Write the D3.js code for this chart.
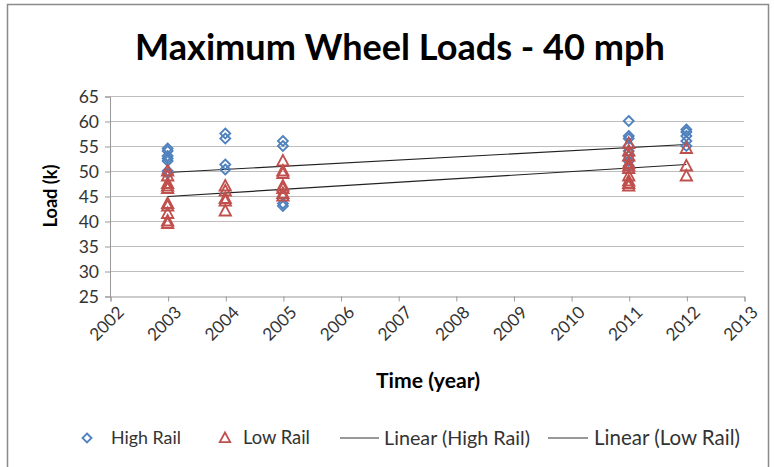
<!DOCTYPE html>
<html>
<head>
<meta charset="utf-8">
<script src="https://cdn.jsdelivr.net/npm/d3@7"></script>
<style>
  html, body { margin: 0; padding: 0; background: #fff; }
  svg { display: block; }
  text { font-family: Lato, "Open Sans", sans-serif; }
</style>
</head>
<body>
<svg id="chart" width="774" height="467"></svg>
<script>
// ---- Data ----
const years = [2002, 2003, 2004, 2005, 2006, 2007, 2008, 2009, 2010, 2011, 2012, 2013];
const yTicks = [25, 30, 35, 40, 45, 50, 55, 60, 65];

const highYears = [2003, 2003, 2003, 2003, 2003, 2003, 2003,
                   2004, 2004, 2004, 2004,
                   2005, 2005, 2005, 2005,
                   2011, 2011, 2011, 2011, 2011, 2011, 2011, 2011,
                   2012, 2012, 2012, 2012, 2012];
const highLoads = [54.5, 54, 53, 52.5, 52, 50, 49.5,
                   57.5, 56.5, 51.3, 50.3,
                   56, 55, 43.5, 43,
                   60, 57, 56.5, 55, 54, 53, 52, 51,
                   58.3, 57.8, 57, 56, 55];

const lowYears = [2003, 2003, 2003, 2003, 2003, 2003, 2003, 2003, 2003, 2003,
                  2004, 2004, 2004, 2004, 2004,
                  2005, 2005, 2005, 2005, 2005, 2005, 2005,
                  2011, 2011, 2011, 2011, 2011, 2011, 2011, 2011, 2011, 2011,
                  2012, 2012, 2012];
const lowLoads = [50, 49, 47.5, 47, 46.5, 43.5, 43, 41.5, 40, 39.5,
                  47, 46, 44.5, 44, 42,
                  52, 50, 49.5, 47, 46.5, 45.5, 45,
                  55.5, 54, 53, 51.5, 51, 50.5, 49, 48, 47.5, 47,
                  54.5, 51, 49];

// Trendline end values (Excel linear fits)
const trendYears = [2003, 2012];
const trendHigh = [49.7, 55.3];
const trendLow = [44.9, 51.3];

const legendLabels = ["High Rail", "Low Rail", "Linear (High Rail)", "Linear (Low Rail)"];

// ---- Chart ----
const blue = "#4F81BD", red = "#C0504D";
const svg = d3.select("#chart");

// scale a text's font size so it spans a target width
function fit(sel, base, width) {
  sel.attr("font-size", base);
  const w = sel.node().getComputedTextLength();
  sel.attr("font-size", base * width / w);
  return sel;
}

// outer frame
svg.append("rect").attr("x", 7.5).attr("y", 4.5).attr("width", 761).attr("height", 470)
  .attr("fill", "#fff").attr("stroke", "#8a8a8a").attr("stroke-width", 1.5);

const x = d3.scaleLinear().domain([2002, 2013]).range([110, 744]);
const y = d3.scaleLinear().domain([25, 65]).range([296, 96]);

// title
const title = svg.append("text").attr("x", 400).attr("y", 60).attr("text-anchor", "middle")
  .attr("font-weight", "bold").attr("fill", "#000")
  .text("Maximum Wheel Loads - 40 mph");
fit(title, 32, 530);

// gridlines
svg.append("g").selectAll("line").data(yTicks.filter(d => d > 25)).join("line")
  .attr("x1", x(2002)).attr("x2", x(2013))
  .attr("y1", d => y(d) + 0.5).attr("y2", d => y(d) + 0.5)
  .attr("stroke", "#bdbdbd").attr("stroke-width", 1);

// y axis
const yAxis = svg.append("g").attr("transform", `translate(${x(2002)},0.5)`)
  .call(d3.axisLeft(y).tickValues(yTicks).tickSize(5).tickPadding(6));
yAxis.select(".domain").attr("stroke", "#999");
yAxis.selectAll(".tick line").attr("stroke", "#999");
yAxis.selectAll(".tick text").attr("font-size", 17.5).attr("fill", "#333")
  .attr("font-family", "Lato, sans-serif");

// x axis
const xAxis = svg.append("g").attr("transform", `translate(0.5,${y(25) + 0.5})`)
  .call(d3.axisBottom(x).tickValues(years).tickFormat(d3.format("d")).tickSize(5));
xAxis.select(".domain").attr("stroke", "#999");
xAxis.selectAll(".tick line").attr("stroke", "#999");
xAxis.selectAll(".tick text").attr("fill", "#333")
  .attr("font-family", "Lato, sans-serif")
  .attr("text-anchor", "end").attr("dy", null).attr("y", 0)
  .attr("transform", "translate(14,17) rotate(-45)")
  .each(function () { fit(d3.select(this), 17, 40); });

// axis titles
const yTitle = svg.append("text").attr("transform", `translate(51,${y(45)}) rotate(-90)`)
  .attr("text-anchor", "middle").attr("dy", "0.35em")
  .attr("font-weight", "bold").text("Load (k)");
fit(yTitle, 15, 63);
const xTitle = svg.append("text").attr("x", 428).attr("y", 388).attr("text-anchor", "middle")
  .attr("font-weight", "bold").text("Time (year)");
fit(xTitle, 15, 104);

// trendlines
const line = d3.line().x(d => x(d[0])).y(d => y(d[1]));
svg.append("path").datum(trendYears.map((t, i) => [t, trendHigh[i]]))
  .attr("d", line).attr("stroke", "#222").attr("stroke-width", 1.2).attr("fill", "none");
svg.append("path").datum(trendYears.map((t, i) => [t, trendLow[i]]))
  .attr("d", line).attr("stroke", "#222").attr("stroke-width", 1.2).attr("fill", "none");

// markers
const diamond = (cx, cy, r) => `M${cx},${cy - r}L${cx + r},${cy}L${cx},${cy + r}L${cx - r},${cy}Z`;
const tri = (cx, cy, r) => `M${cx},${cy - r}L${cx + r * 0.95},${cy + r * 0.75}L${cx - r * 0.95},${cy + r * 0.75}Z`;

svg.append("g").selectAll("path").data(highLoads).join("path")
  .attr("d", (d, i) => diamond(x(highYears[i]), y(d), 5))
  .attr("fill", "none").attr("stroke", blue).attr("stroke-width", 1.8);
svg.append("g").selectAll("path").data(lowLoads).join("path")
  .attr("d", (d, i) => tri(x(lowYears[i]), y(d), 6))
  .attr("fill", "none").attr("stroke", red).attr("stroke-width", 1.8);

// legend
const ly = 438;
const lg = svg.append("g");
const ltext = (xPos, label, width) =>
  fit(lg.append("text").attr("x", xPos).attr("y", ly).attr("dy", "0.35em").attr("fill", "#333").text(label), 15, width);
lg.append("path").attr("d", diamond(87, ly, 4.5)).attr("fill", "none").attr("stroke", blue).attr("stroke-width", 1.8);
ltext(111, legendLabels[0], 70);
lg.append("path").attr("d", tri(225, ly, 5.5)).attr("fill", "none").attr("stroke", red).attr("stroke-width", 1.8);
ltext(243, legendLabels[1], 67);
lg.append("line").attr("x1", 340).attr("x2", 379).attr("y1", ly).attr("y2", ly).attr("stroke", "#333").attr("stroke-width", 1.2);
ltext(384, legendLabels[2], 146);
lg.append("line").attr("x1", 548).attr("x2", 588).attr("y1", ly).attr("y2", ly).attr("stroke", "#333").attr("stroke-width", 1.2);
ltext(594, legendLabels[3], 146);
</script>
</body>
</html>
